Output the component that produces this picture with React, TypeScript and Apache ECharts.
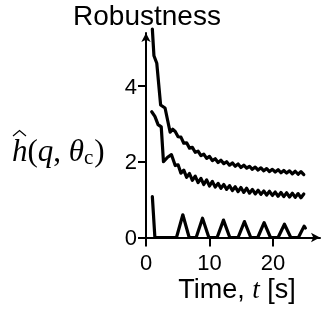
import React, { useEffect, useRef } from "react";
import * as echarts from "echarts";

// ---- data ----
const xTicks = [0, 10, 20];
const yTicks = [0, 2, 4];

const rippleTimes = [
  4.6, 5.05, 5.5, 5.95, 6.4, 6.85, 7.3, 7.75, 8.2, 8.65, 9.1, 9.55, 10.0, 10.45, 10.9, 11.35,
  11.8, 12.25, 12.7, 13.15, 13.6, 14.05, 14.5, 14.95, 15.4, 15.85, 16.3, 16.75, 17.2, 17.65,
  18.1, 18.55, 19.0, 19.45, 19.9, 20.35, 20.8, 21.25, 21.7, 22.15, 22.6, 23.05, 23.5, 23.95,
  24.4, 24.85,
];

const upperStartT = [1.0, 1.25, 1.7, 2.3, 3.0, 3.8, 4.2];
const upperStartH = [5.5, 4.8, 4.6, 3.5, 3.42, 2.78, 2.86];
const upperRippleH = [
  2.8, 2.66, 2.65, 2.49, 2.5, 2.36, 2.38, 2.25, 2.28, 2.16, 2.2, 2.09, 2.14, 2.03, 2.08, 1.98,
  2.04, 1.95, 2.0, 1.91, 1.97, 1.88, 1.94, 1.85, 1.91, 1.83, 1.88, 1.8, 1.86, 1.78, 1.84, 1.76,
  1.82, 1.74, 1.8, 1.73, 1.79, 1.71, 1.77, 1.7, 1.76, 1.68, 1.75, 1.67, 1.74, 1.66,
];

const middleStartT = [0.9, 1.4, 1.9, 2.4, 2.75, 3.4, 4.0];
const middleStartH = [3.32, 3.2, 2.98, 2.92, 2.0, 2.12, 2.19];
const middleRippleH = [
  1.9, 1.92, 1.7, 1.78, 1.59, 1.69, 1.51, 1.62, 1.45, 1.56, 1.4, 1.52, 1.36, 1.48, 1.33, 1.43,
  1.3, 1.4, 1.27, 1.37, 1.24, 1.34, 1.21, 1.32, 1.19, 1.3, 1.17, 1.27, 1.15, 1.25, 1.14, 1.23,
  1.12, 1.22, 1.11, 1.2, 1.09, 1.19, 1.08, 1.18, 1.07, 1.17, 1.06, 1.16, 1.05, 1.15,
];

const lowerT = [
  1.0, 1.4, 4.8, 5.8, 6.8, 7.9, 8.9, 9.9, 11.2, 12.2, 13.2, 14.5, 15.5, 16.5, 17.6, 18.6, 19.6,
  20.8, 21.8, 22.8, 24.0, 24.9, 25.1,
];
const lowerH = [
  1.08, 0, 0, 0.6, 0, 0, 0.51, 0, 0, 0.46, 0, 0, 0.42, 0, 0, 0.39, 0, 0, 0.35, 0, 0, 0.3, 0.25,
];

const title = "Robustness";

function pairs(t: number[], h: number[]) {
  return t.map((x, i) => [x, h[i]]);
}

export default function App() {
  const ref = useRef<HTMLDivElement>(null);
  useEffect(() => {
    const chart = echarts.init(ref.current!, null, { renderer: "svg" });
    const line = (data: number[][]) => ({
      type: "line",
      data,
      showSymbol: false,
      clip: false,
      lineStyle: { color: "#000", width: 3.2, join: "round", cap: "round" },
      itemStyle: { color: "#000" },
    });
    chart.setOption({
      animation: false,
      grid: {
        left: 146,
        right: 3,
        top: 33,
        bottom: 71.5,
        containLabel: false,
        outerBoundsMode: "none",
      },
      xAxis: {
        type: "value",
        min: 0,
        max: 27.4,
        axisLine: {
          show: true,
          lineStyle: { color: "#000", width: 2 },
          symbol: ["none", "arrow"],
          symbolSize: [7, 9],
        },
        axisTick: { show: true, length: 9, lineStyle: { color: "#000", width: 2 }, customValues: xTicks },
        axisLabel: {
          customValues: xTicks,
          margin: 14,
          color: "#000",
          fontSize: 22,
          fontFamily: "Liberation Sans",
        },
        splitLine: { show: false },
      },
      yAxis: {
        type: "value",
        min: 0,
        max: 5.4,
        axisLine: {
          show: true,
          lineStyle: { color: "#000", width: 2 },
          symbol: ["none", "arrow"],
          symbolSize: [7, 9],
        },
        axisTick: { show: true, length: 8, lineStyle: { color: "#000", width: 2 }, customValues: yTicks },
        axisLabel: {
          customValues: yTicks,
          margin: 9,
          color: "#000",
          fontSize: 22,
          fontFamily: "Liberation Sans",
        },
        splitLine: { show: false },
      },
      series: [
        line(pairs(upperStartT.concat(rippleTimes), upperStartH.concat(upperRippleH))),
        line(pairs(middleStartT.concat(rippleTimes), middleStartH.concat(middleRippleH))),
        line(pairs(lowerT, lowerH)),
      ],
      graphic: [
        {
          type: "text",
          x: 147,
          y: 15,
          style: {
            text: title,
            font: "28px 'Liberation Sans'",
            fill: "#000",
            textAlign: "center",
            textVerticalAlign: "middle",
          },
        },
        {
          type: "text",
          x: 237,
          y: 289,
          style: {
            text: "{a|Time, }{b|t}{a| [s]}",
            textAlign: "center",
            textVerticalAlign: "middle",
            rich: {
              a: { fontFamily: "Liberation Sans", fontSize: 27, fill: "#000" },
              b: { fontFamily: "Liberation Serif", fontStyle: "italic", fontSize: 27, fill: "#000" },
            },
          },
        },
        {
          type: "text",
          x: 12,
          y: 150,
          style: {
            text: "{i|h}{n|(}{i|q}{n|, }{i|θ}{s|c}{n|)}",
            textAlign: "left",
            textVerticalAlign: "middle",
            rich: {
              i: { fontFamily: "Liberation Serif", fontStyle: "italic", fontSize: 31, fill: "#000" },
              n: { fontFamily: "Liberation Serif", fontSize: 31, fill: "#000" },
              s: { fontFamily: "Liberation Serif", fontSize: 21, fill: "#000", verticalAlign: "bottom", padding: [13, 1, 0, 0] },
            },
          },
        },
        {
          type: "polyline",
          shape: { points: [[13, 136], [19.5, 130.5], [26, 136]] },
          style: { stroke: "#000", lineWidth: 1.2, fill: "none" },
        },
      ],
    });
    return () => chart.dispose();
  }, []);
  return (
    <div
      ref={ref}
      style={{ position: "fixed", left: 0, top: 0, width: 323, height: 309 }}
    />
  );
}
